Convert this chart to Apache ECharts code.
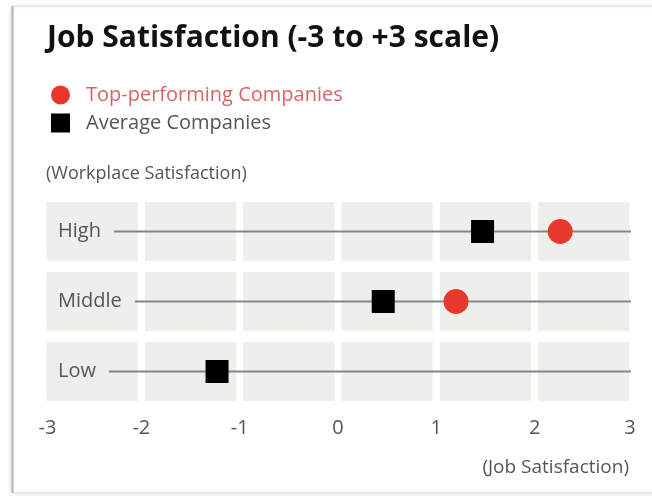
<!DOCTYPE html>
<html>
<head>
<meta charset="utf-8">
<script src="https://cdn.jsdelivr.net/npm/echarts@6/dist/echarts.min.js"></script>
<style>
  html, body { margin: 0; padding: 0; background: #ffffff; }
  #chart { width: 652px; height: 496px; }
</style>
</head>
<body>
<div id="chart"></div>
<script>
// Workplace-satisfaction groups (bottom to top on the chart)
const rowLabels = ['Low', 'Middle', 'High'];
// Job satisfaction scores on the -3..+3 scale
const topPerforming = [null, 1.2, 2.26];
const averageCompanies = [-1.23, 0.46, 1.47];
// Scale tick labels
const scaleTicks = [-3, -2, -1, 0, 1, 2, 3];

const seriesNames = ['Top-performing Companies', 'Average Companies'];
const FONT = '"Open Sans", "Noto Sans", sans-serif';
const CELL = '#eeeeea';

// one shaded cell per row and per unit step of the scale
const cellData = [];
rowLabels.forEach((_, r) => {
  for (let i = 0; i < scaleTicks.length - 1; i++) cellData.push([scaleTicks[i], r]);
});

const minTick = scaleTicks[0];
const maxTick = scaleTicks[scaleTicks.length - 1];

const chart = echarts.init(document.getElementById('chart'));
chart.setOption({
  animation: false,
  backgroundColor: '#ffffff',
  title: {
    text: 'Job Satisfaction (-3 to +3 scale)',
    left: 42, top: 18,
    textStyle: { fontFamily: FONT, fontWeight: 'bold', fontSize: 30, color: '#111' }
  },
  legend: {
    orient: 'vertical',
    left: 46, top: 80,
    itemWidth: 19, itemHeight: 19, itemGap: 8,
    selectedMode: false,
    data: [
      { name: seriesNames[0], icon: 'circle' },
      { name: seriesNames[1], icon: 'rect' }
    ],
    formatter: name => (name === seriesNames[0] ? '{t|' : '{a|') + name + '}',
    textStyle: {
      fontFamily: FONT, fontSize: 20,
      rich: {
        t: { color: '#d9636a', fontFamily: FONT, fontSize: 20, padding: [0, 0, 0, 11] },
        a: { color: '#555', fontFamily: FONT, fontSize: 20, padding: [0, 0, 0, 11] }
      }
    }
  },
  graphic: [
    { type: 'rect', silent: true, z: -10,
      shape: { x: 12.5, y: 6.5, width: 700, height: 486 },
      style: { fill: '#fff', stroke: '#e6e6e6', lineWidth: 1,
               shadowColor: 'rgba(0,0,0,0.15)', shadowBlur: 4, shadowOffsetX: -1 } },
    { type: 'line', silent: true, z: -9,
      shape: { x1: 12.5, y1: 6, x2: 12.5, y2: 493 },
      style: { stroke: '#b5b5b5', lineWidth: 2 } },
    { type: 'text', silent: true, left: 46, top: 165,
      style: { text: '(Workplace Satisfaction)', fill: '#555', font: '18px ' + FONT } },
    { type: 'text', silent: true, right: 23, top: 458,
      style: { text: '(Job Satisfaction)', fill: '#555', font: '19px ' + FONT } }
  ],
  grid: { left: 43, right: 19, top: 196.5, bottom: 89.5, containLabel: false },
  xAxis: {
    type: 'value', min: minTick, max: maxTick, interval: 1,
    axisLine: { show: false }, axisTick: { show: false }, splitLine: { show: false },
    axisLabel: {
      color: '#555', fontFamily: FONT, fontSize: 20, margin: 12,
      // edge labels sit slightly inside the scale ends
      formatter: v => (v === minTick ? '{l|' + v + '}' : v === maxTick ? '{r|' + v + '}' : String(v)),
      rich: {
        l: { color: '#555', fontFamily: FONT, fontSize: 20, padding: [0, 0, 0, 9] },
        r: { color: '#555', fontFamily: FONT, fontSize: 20, padding: [0, 6, 0, 0] }
      }
    }
  },
  yAxis: {
    type: 'category', data: rowLabels, z: 5,
    axisLine: { show: false }, axisTick: { show: false }, splitLine: { show: false },
    axisLabel: {
      inside: true, margin: 3, color: '#555', fontFamily: FONT, fontSize: 20,
      backgroundColor: CELL, padding: [6, 13, 6, 12]
    }
  },
  series: [
    {
      type: 'custom', name: 'cells', z: 1, silent: true,
      data: cellData,
      renderItem: (params, api) => {
        const a = api.coord([api.value(0), api.value(1)]);
        const b = api.coord([api.value(0) + 1, api.value(1)]);
        const h = api.size([0, 1])[1];
        return { type: 'rect',
          shape: { x: a[0] + 3.5, y: a[1] - h / 2 + 5.5, width: b[0] - a[0] - 7, height: h - 11 },
          style: { fill: CELL } };
      }
    },
    {
      type: 'custom', name: 'rows', z: 2, silent: true,
      data: rowLabels.map((_, r) => [r]),
      renderItem: (params, api) => {
        const a = api.coord([minTick, api.value(0)]);
        const b = api.coord([maxTick, api.value(0)]);
        return { type: 'line',
          shape: { x1: a[0] + 3, y1: a[1], x2: b[0] - 2, y2: b[1] },
          style: { stroke: '#858585', lineWidth: 2 } };
      }
    },
    {
      type: 'scatter', name: seriesNames[0], z: 10,
      symbol: 'circle', symbolSize: 25,
      itemStyle: { color: '#e8382e', opacity: 1 },
      data: topPerforming.map((v, r) => (v === null ? null : [v, r])).filter(d => d)
    },
    {
      type: 'scatter', name: seriesNames[1], z: 10,
      symbol: 'rect', symbolSize: 23,
      itemStyle: { color: '#000', opacity: 1 },
      data: averageCompanies.map((v, r) => [v, r])
    }
  ]
});
</script>
</body>
</html>
